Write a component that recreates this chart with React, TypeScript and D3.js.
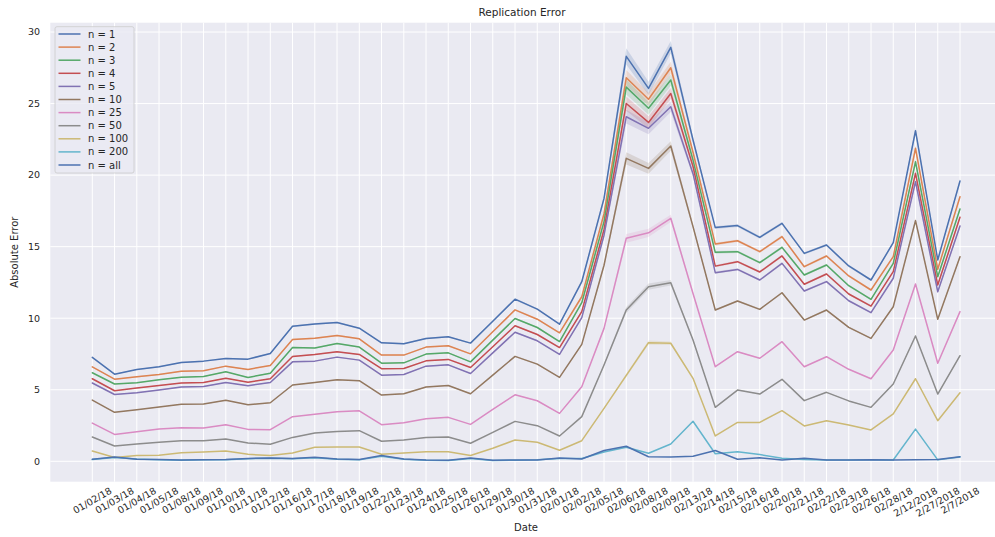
import React from "react";
import * as d3 from "d3";

const dates = ["01/02/18","01/03/18","01/04/18","01/05/18","01/08/18","01/09/18","01/10/18","01/11/18","01/12/18","01/16/18","01/17/18","01/18/18","01/19/18","01/22/18","01/23/18","01/24/18","01/25/18","01/26/18","01/29/18","01/30/18","01/31/18","02/01/18","02/02/18","02/05/18","02/06/18","02/08/18","02/09/18","02/13/18","02/14/18","02/15/18","02/16/18","02/20/18","02/21/18","02/22/18","02/23/18","02/26/18","02/28/18","2/12/2018","2/27/2018","2/7/2018"];

const n1 = [7.26,6.09,6.42,6.6,6.91,7.0,7.19,7.14,7.53,9.44,9.6,9.7,9.3,8.28,8.21,8.58,8.7,8.26,9.79,11.33,10.63,9.58,12.55,18.37,28.3,26.06,28.93,22.45,16.33,16.47,15.65,16.63,14.53,15.11,13.65,12.67,15.28,23.1,14.07,19.59];
const n2 = [6.6,5.74,5.9,6.07,6.3,6.33,6.65,6.42,6.7,8.51,8.6,8.79,8.56,7.42,7.42,7.98,8.07,7.51,9.05,10.58,9.93,8.98,11.5,17.3,26.8,25.3,27.5,21.6,15.18,15.41,14.65,15.7,13.6,14.35,12.95,11.97,14.3,21.87,13.42,18.49];
const n3 = [6.19,5.4,5.49,5.7,5.88,5.93,6.26,5.86,6.16,7.95,7.91,8.23,7.98,6.86,6.88,7.49,7.58,6.95,8.47,9.98,9.35,8.37,11.08,16.75,26.15,24.67,26.65,21.05,14.6,14.65,13.88,14.95,13.02,13.72,12.27,11.32,13.83,20.93,12.9,17.63];
const n4 = [5.77,4.93,5.12,5.3,5.47,5.51,5.81,5.53,5.77,7.33,7.47,7.65,7.47,6.47,6.49,7.02,7.12,6.56,8.0,9.47,8.86,7.95,10.46,16.2,25.0,23.68,25.7,20.6,13.64,13.95,13.23,14.35,12.37,13.09,11.69,10.85,13.25,20.12,12.32,17.05];
const n5 = [5.47,4.67,4.79,4.98,5.19,5.23,5.51,5.28,5.51,6.95,7.0,7.28,7.07,6.02,6.07,6.65,6.74,6.14,7.58,9.02,8.42,7.47,10.04,15.8,24.08,23.27,24.78,20.1,13.18,13.41,12.67,13.83,11.9,12.56,11.22,10.39,12.79,19.54,11.85,16.45];
const n10 = [4.28,3.42,3.6,3.79,3.98,4.0,4.26,3.95,4.09,5.33,5.51,5.7,5.63,4.63,4.72,5.19,5.3,4.72,6.02,7.33,6.79,5.86,8.17,13.7,21.17,20.47,22.03,16.4,10.57,11.2,10.62,11.78,9.87,10.57,9.36,8.59,10.8,16.82,9.92,14.3];
const n25 = [2.67,1.88,2.07,2.26,2.35,2.33,2.56,2.23,2.21,3.12,3.28,3.47,3.53,2.56,2.7,2.98,3.07,2.58,3.63,4.65,4.23,3.35,5.21,9.29,15.58,15.97,16.98,11.73,6.61,7.66,7.2,8.36,6.61,7.31,6.43,5.77,7.78,12.39,6.85,10.46];
const n50 = [1.7,1.07,1.21,1.33,1.44,1.44,1.56,1.28,1.19,1.67,1.98,2.09,2.14,1.4,1.49,1.67,1.7,1.26,2.02,2.79,2.49,1.77,3.12,6.73,10.57,12.2,12.48,8.47,3.77,4.98,4.7,5.73,4.24,4.82,4.22,3.77,5.4,8.76,4.7,7.38];
const n100 = [0.72,0.26,0.4,0.42,0.6,0.65,0.72,0.49,0.4,0.58,0.98,1.0,1.0,0.49,0.58,0.67,0.67,0.4,0.91,1.49,1.33,0.77,1.44,3.7,6.0,8.29,8.25,5.8,1.77,2.72,2.72,3.54,2.47,2.84,2.54,2.19,3.31,5.77,2.84,4.79];
const n200 = [0.12,0.26,0.16,0.1,0.08,0.1,0.1,0.18,0.22,0.18,0.25,0.14,0.1,0.36,0.14,0.08,0.06,0.2,0.06,0.08,0.1,0.2,0.2,0.65,0.98,0.56,1.21,2.8,0.53,0.67,0.47,0.22,0.12,0.09,0.09,0.1,0.09,2.25,0.1,0.3];
const nAll = [0.14,0.3,0.14,0.12,0.09,0.1,0.12,0.2,0.23,0.2,0.28,0.16,0.12,0.4,0.16,0.09,0.07,0.23,0.07,0.09,0.09,0.23,0.16,0.75,1.05,0.32,0.3,0.35,0.75,0.14,0.24,0.09,0.22,0.09,0.09,0.11,0.09,0.11,0.12,0.32];

// relative half-width of the confidence band per date
const ciFrac = [0.006,0.006,0.006,0.006,0.006,0.006,0.006,0.006,0.006,0.006,0.006,0.006,0.006,0.006,0.006,0.006,0.006,0.006,0.006,0.006,0.006,0.006,0.01,0.012,0.02,0.018,0.015,0.01,0.006,0.006,0.006,0.006,0.006,0.006,0.006,0.006,0.006,0.01,0.008,0.008];

const seriesNames = ["n = 1","n = 2","n = 3","n = 4","n = 5","n = 10","n = 25","n = 50","n = 100","n = 200","n = all"];
const seriesValues = [n1,n2,n3,n4,n5,n10,n25,n50,n100,n200,nAll];
const palette = ["#4c72b0","#dd8452","#55a868","#c44e52","#8172b3","#937860","#da8bc3","#8c8c8c","#ccb974","#64b5cd","#4c72b0"];

const yTicks = [0,5,10,15,20,25,30];

const W = 995, H = 537;
const FONT = "'DejaVu Sans', sans-serif";
const TXT = "#262626";

function textWidth(s: string, size: number) {
  if (typeof document === "undefined") return s.length * size * 0.6;
  const c = document.createElement("canvas").getContext("2d");
  if (!c) return s.length * size * 0.6;
  c.font = `${size}px "DejaVu Sans"`;
  return c.measureText(s).width;
}

export default function App() {
  const plotL = 50.3, plotR = 1004, plotT = 22.7, plotB = 481.7;
  const x = d3.scaleLinear().domain([0, dates.length - 1]).range([92.3, 960]);
  const y = d3.scaleLinear().domain([0, 30]).range([461.3, 32]);

  const line = d3.line<number>().x((_, i) => x(i)).y((v) => y(v));
  const area = d3.area<number>().x((_, i) => x(i)).y0((v, i) => y(v * (1 - ciFrac[i]))).y1((v, i) => y(v * (1 + ciFrac[i])));

  const tickFs = 9.5;
  const ang = 30;
  const rad = (ang * Math.PI) / 180;
  const th = tickFs * 1.17;

  const legX = 55, legY = 26.7, legW = 79, legH = 146.3, legStep = 13.1;

  return (
    <svg width={W} height={H} style={{ position: "absolute", left: 0, top: 0, background: "#fff" }} fontFamily={FONT}>
      <defs>
        <clipPath id="plotclip">
          <rect x={plotL} y={plotT} width={plotR - plotL} height={plotB - plotT} />
        </clipPath>
      </defs>
      <rect x={plotL} y={plotT} width={plotR - plotL} height={plotB - plotT} fill="#eaeaf2" />
      {dates.map((d, i) => (
        <line key={"vg" + i} x1={x(i)} x2={x(i)} y1={plotT} y2={plotB} stroke="#fff" strokeWidth={1} />
      ))}
      {yTicks.map((t) => (
        <line key={"hg" + t} x1={plotL} x2={plotR} y1={y(t)} y2={y(t)} stroke="#fff" strokeWidth={1} />
      ))}
      <g clipPath="url(#plotclip)">
        {seriesValues.map((vals, k) => (
          <path key={"a" + k} d={area(vals) || ""} fill={palette[k]} fillOpacity={0.2} stroke="none" />
        ))}
        {seriesValues.map((vals, k) => (
          <path key={"l" + k} d={line(vals) || ""} fill="none" stroke={palette[k]} strokeWidth={1.5} strokeLinejoin="round" strokeLinecap="round" />
        ))}
      </g>
      {yTicks.map((t) => (
        <text key={"yt" + t} x={40} y={y(t)} dy="0.35em" textAnchor="end" fontSize={tickFs} fill={TXT}>{t}</text>
      ))}
      {dates.map((d, i) => {
        const w = textWidth(d, tickFs);
        const bh = w * Math.sin(rad) + th * Math.cos(rad);
        const cy = 485 + bh / 2;
        return (
          <text key={"xt" + i} transform={`translate(${x(i)},${cy}) rotate(${-ang})`} textAnchor="middle" dy="0.35em" fontSize={tickFs} fill={TXT}>{d}</text>
        );
      })}
      <text x={522} y={16} textAnchor="middle" fontSize={10.5} fill={TXT}>Replication Error</text>
      <text x={526} y={531} textAnchor="middle" fontSize={10} fill={TXT}>Date</text>
      <text transform={`translate(18,${(plotT + plotB) / 2}) rotate(-90)`} textAnchor="middle" fontSize={10} fill={TXT}>Absolute Error</text>
      <g>
        <rect x={legX} y={legY} width={legW} height={legH} rx={2} fill="#eaeaf2" fillOpacity={0.8} stroke="#cccccc" strokeWidth={0.8} />
        {seriesNames.map((nm, k) => {
          const yy = 34 + k * legStep;
          return (
            <g key={"lg" + k}>
              <line x1={58.5} x2={80.5} y1={yy} y2={yy} stroke={palette[k]} strokeWidth={1.5} />
              <text x={88} y={yy} dy="0.35em" fontSize={10} fill={TXT}>{nm}</text>
            </g>
          );
        })}
      </g>
    </svg>
  );
}
